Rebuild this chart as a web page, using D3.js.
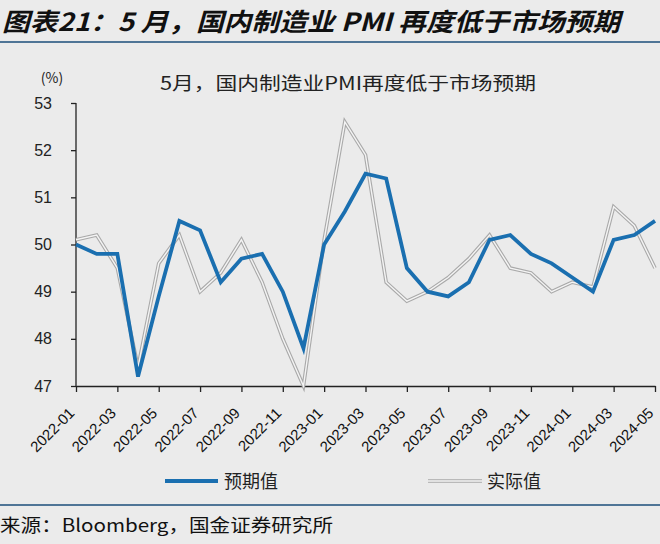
<!DOCTYPE html>
<html><head><meta charset="utf-8">
<script src="https://cdn.jsdelivr.net/npm/d3@7"></script>
<style>
html,body{margin:0;padding:0;background:#ebebeb;}
svg{display:block;}
</style></head>
<body>
<script>
const months = ["2022-01","2022-02","2022-03","2022-04","2022-05","2022-06","2022-07","2022-08","2022-09","2022-10","2022-11","2022-12",
"2023-01","2023-02","2023-03","2023-04","2023-05","2023-06","2023-07","2023-08","2023-09","2023-10","2023-11","2023-12",
"2024-01","2024-02","2024-03","2024-04","2024-05"];
const expected = [50.0,49.8,49.8,47.2,48.9,50.5,50.3,49.2,49.7,49.8,49.0,47.8,
50.0,50.7,51.5,51.4,49.5,49.0,48.9,49.2,50.1,50.2,49.8,49.6,
49.3,49.0,50.1,50.2,50.5];
const actual = [50.1,50.2,49.5,47.4,49.6,50.2,49.0,49.4,50.1,49.2,48.0,47.0,
50.1,52.6,51.9,49.2,48.8,49.0,49.3,49.7,50.2,49.5,49.4,49.0,
49.2,49.1,50.8,50.4,49.5];
const yTicks = [47,48,49,50,51,52,53];
const xTickLabels = months.filter((d,i)=>i%2===0);
const seriesNames = ["预期值","实际值"];

const W=660,H=544;
const svg=d3.select("body").append("svg").attr("width",W).attr("height",H);
svg.append("rect").attr("width",W).attr("height",H).attr("fill","#ebebeb");

const cjk = "'Noto Sans CJK SC','Noto Sans',sans-serif";
svg.append("text").attr("x",2).attr("y",31).attr("font-family",cjk).attr("font-size",25)
  .attr("font-weight","bold").attr("font-style","italic").attr("fill","#111")
  .attr("textLength",618).attr("lengthAdjust","spacingAndGlyphs")
  .text("图表21：5 月，国内制造业 PMI 再度低于市场预期");
svg.append("line").attr("x1",0).attr("x2",W).attr("y1",42).attr("y2",42).attr("stroke","#4f7596").attr("stroke-width",2);
svg.append("line").attr("x1",0).attr("x2",W).attr("y1",505).attr("y2",505).attr("stroke","#4f7596").attr("stroke-width",2);
svg.append("text").attr("x",0).attr("y",532).attr("font-family",cjk).attr("font-size",18).attr("fill","#111")
  .attr("textLength",333).attr("lengthAdjust","spacingAndGlyphs")
  .text("来源：Bloomberg，国金证券研究所");

svg.append("text").attr("x",160).attr("y",90).attr("font-family",cjk).attr("font-size",18).attr("fill","#222")
  .attr("textLength",376).attr("lengthAdjust","spacingAndGlyphs")
  .text("5月，国内制造业PMI再度低于市场预期");
svg.append("text").attr("x",52).attr("y",83).attr("text-anchor","middle").attr("font-family",cjk).attr("font-size",14).attr("fill","#222").text("(%)");

const x=d3.scalePoint().domain(months).range([76,655]);
const y=d3.scaleLinear().domain([47,53]).range([386,103]);

const yAxis=svg.append("g").attr("transform","translate(76,0)")
  .call(d3.axisLeft(y).tickValues(yTicks).tickSize(5).tickFormat(d3.format("d")));
yAxis.select(".domain").attr("stroke","#222").attr("stroke-width",1.3).attr("d","M-0,103V386");
yAxis.selectAll(".tick line").attr("stroke","#222").attr("stroke-width",1.3);
yAxis.selectAll(".tick text").attr("font-family","Arial,'Liberation Sans',sans-serif").attr("font-size",16).attr("fill","#222").attr("x",-24);

const xAxis=svg.append("g").attr("transform","translate(0,386)")
  .call(d3.axisBottom(x).tickValues(xTickLabels).tickSize(6).tickSizeOuter(0));
xAxis.select(".domain").attr("stroke","#222").attr("stroke-width",1.3);
xAxis.selectAll(".tick line").attr("stroke","#222").attr("stroke-width",1.3);
xAxis.selectAll(".tick text").attr("font-family","Arial,'Liberation Sans',sans-serif").attr("font-size",15).attr("fill","#111")
  .attr("text-anchor","end").attr("dy",null).attr("y",0)
  .attr("transform","translate(-1,28) rotate(-45)");

const line=d3.line().x((d,i)=>x(months[i])).y(d=>y(d));
svg.append("path").datum(actual).attr("d",line).attr("fill","none").attr("stroke","#a9a9a9").attr("stroke-width",3.6);
svg.append("path").datum(actual).attr("d",line).attr("fill","none").attr("stroke","#f4f4f4").attr("stroke-width",1.4);
svg.append("path").datum(expected).attr("d",line).attr("fill","none").attr("stroke","#1a6fb0").attr("stroke-width",3.8);

const lg=svg.append("g");
lg.append("line").attr("x1",165).attr("x2",218).attr("y1",481).attr("y2",481).attr("stroke","#1a6fb0").attr("stroke-width",3.8);
lg.append("text").attr("x",224).attr("y",488).attr("font-family",cjk).attr("font-size",18).attr("fill","#222").text(seriesNames[0]);
lg.append("line").attr("x1",428).attr("x2",482).attr("y1",481).attr("y2",481).attr("stroke","#a9a9a9").attr("stroke-width",3.6);
lg.append("line").attr("x1",428).attr("x2",482).attr("y1",481).attr("y2",481).attr("stroke","#f4f4f4").attr("stroke-width",1.4);
lg.append("text").attr("x",487).attr("y",488).attr("font-family",cjk).attr("font-size",18).attr("fill","#222").text(seriesNames[1]);
</script>
</body></html>
